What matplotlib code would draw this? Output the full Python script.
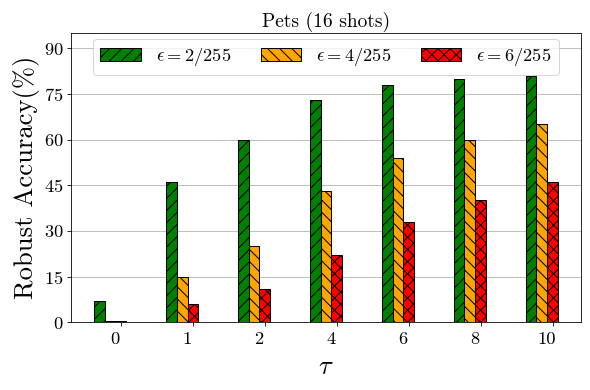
import numpy as np
import matplotlib.pyplot as plt
import matplotlib.transforms as mtransforms

plt.rcParams['font.family'] = 'serif'
plt.rcParams['font.serif'] = ['cmr10']
plt.rcParams['mathtext.fontset'] = 'cm'
plt.rcParams['axes.formatter.use_mathtext'] = True
plt.rcParams['hatch.linewidth'] = 1.0

taus = ['0', '1', '2', '4', '6', '8', '10']
eps2 = [7, 46, 60, 73, 78, 80, 81]
eps4 = [0.3, 15, 25, 43, 54, 60, 65]
eps6 = [0.3, 6, 11, 22, 33, 40, 46]
labels = [r'$\epsilon=2/255$', r'$\epsilon=4/255$', r'$\epsilon=6/255$']

x = np.arange(len(taus))
w = 0.15

fig, ax = plt.subplots(figsize=(8.0, 390 / 73.75), dpi=73.75)
fig.subplots_adjust(left=0.12, right=0.985, bottom=0.174, top=0.915)

ax.bar(x - 2 * w, eps2, w, color='green', edgecolor='black', hatch='//', label=labels[0])
ax.bar(x - w, eps4, w, color='orange', edgecolor='black', hatch='\\\\', label=labels[1])
ax.bar(x, eps6, w, color='red', edgecolor='black', hatch='xx', label=labels[2])

ax.set_xticks(x)
ax.set_xticklabels(taus, fontsize=18)
ax.tick_params(axis='x', pad=6)
# in the reference the tau labels sit a little left of their ticks
off = mtransforms.ScaledTranslation(-6 / 73.75, 0, fig.dpi_scale_trans)
for lab in ax.get_xticklabels():
    lab.set_transform(lab.get_transform() + off)

ax.set_ylim(0, 95)
ax.set_yticks(np.arange(0, 91, 15))
ax.tick_params(axis='y', labelsize=18)
ax.grid(axis='y', color='#b0b0b0')
ax.set_axisbelow(True)

ax.set_xlabel(r'$\tau$', fontsize=26, labelpad=8)
ax.set_ylabel('Robust Accuracy(%)', fontsize=26)
ax.set_title('Pets (16 shots)', fontsize=19)
ax.legend(loc='upper center', ncol=3, fontsize=18, borderaxespad=0.3,
          handlelength=2.2, columnspacing=1.6)

fig.savefig('out.png', dpi=73.75)
